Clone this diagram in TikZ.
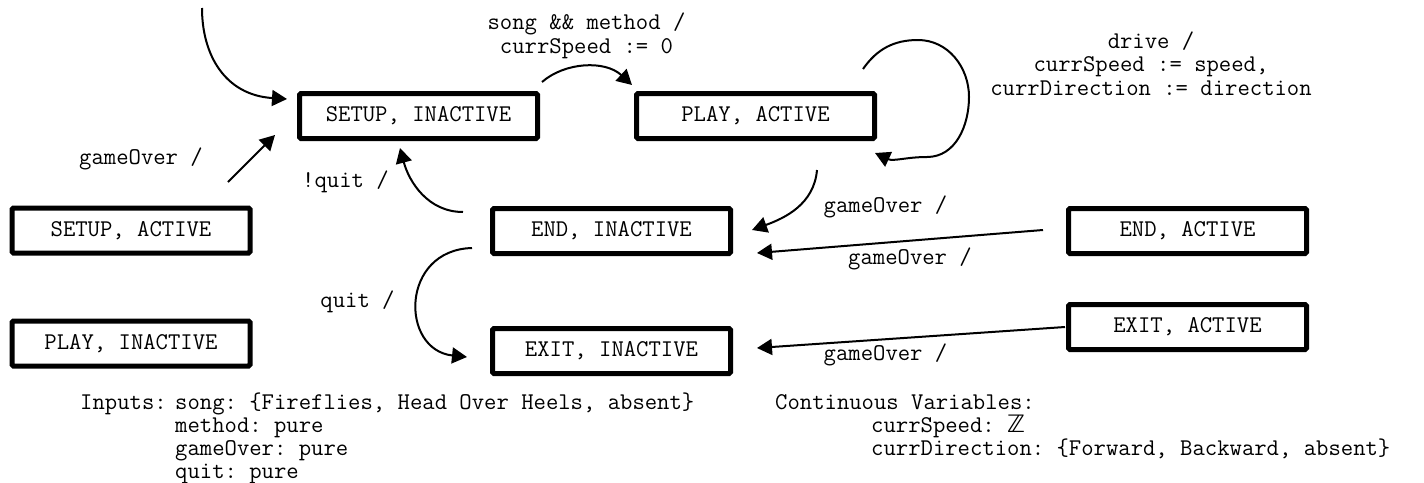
\documentclass[tikz,border=0pt]{standalone}
\usepackage{fontspec}
\newfontfamily\symfont{DejaVu Sans}
\usetikzlibrary{arrows.meta}
\begin{document}
\frenchspacing
\begin{tikzpicture}[x=1pt,y=1pt,
  txt/.style={font=\frenchspacing\ttfamily\fontsize{24}{26}\selectfont},
  statebox/.style={txt, draw, line width=5pt, rounded corners=1.5pt, minimum width=238pt, minimum height=45pt, inner sep=0pt},
  lbl/.style={txt, inner sep=0pt, anchor=base},
  lblw/.style={txt, inner sep=0pt, anchor=base west},
  conn/.style={line width=2pt, -{Triangle[length=15pt,width=16pt]}}
]
\useasboundingbox (0,0) rectangle (1424,-482);

% states
\node[statebox] (SI) at (418.5,-116) {SETUP, INACTIVE};
\node[statebox] (PA) at (755.5,-116) {PLAY, ACTIVE};
\node[statebox] (SA) at (131,-230.5) {SETUP, ACTIVE};
\node[statebox] (EI) at (611.5,-231) {END, INACTIVE};
\node[statebox] (EA) at (1187.5,-231) {END, ACTIVE};
\node[statebox] (PI) at (131,-343.5) {PLAY, INACTIVE};
\node[statebox] (XI) at (611.5,-351) {EXIT, INACTIVE};
\node[statebox] (XA) at (1187.5,-327) {EXIT, ACTIVE};

% connector end points
\coordinate (init) at (202,-8);
\coordinate (siL) at (287,-99);
\coordinate (saOut) at (228,-182);
\coordinate (siLB) at (275,-135);
\coordinate (siR) at (542,-82);
\coordinate (paL) at (632,-85);
\coordinate (paLoopS) at (863,-69);
\coordinate (paLoopT) at (918,-40);
\coordinate (paLoopR) at (969,-97);
\coordinate (paLoopB) at (927,-157);
\coordinate (paLoopE) at (875,-153);
\coordinate (paB) at (817,-170);
\coordinate (eiR) at (752,-230);
\coordinate (eaL) at (1043,-230);
\coordinate (eiR2) at (757,-253);
\coordinate (xaL) at (1065,-327);
\coordinate (xiR) at (757,-348);
\coordinate (eiL) at (463,-212);
\coordinate (siB) at (400,-148);
\coordinate (eiLB) at (472,-248);
\coordinate (xiL) at (467,-357);

% connectors
\draw[conn] (init) .. controls (202,-55) and (225,-95) .. (siL);
\draw[conn] (saOut) -- (siLB);
\draw[conn] (siR) .. controls (565,-62) and (605,-60) .. (paL);
\draw[conn] (paLoopS) to[out=55,in=180] (paLoopT) to[out=0,in=90] (paLoopR)
  to[out=-90,in=0] (paLoopB) to[out=180,in=-25] (paLoopE);
\draw[conn] (paB) to[out=-95,in=20] (eiR);
\draw[conn] (eaL) -- (eiR2);
\draw[conn] (xaL) -- (xiR);
\draw[conn] (eiL) to[out=180,in=-75] (siB);
\draw[conn] (eiLB) .. controls (400,-250) and (400,-350) .. (xiL);

% labels
\node[lbl] (l1) at (141,-164) {gameOver /};
\node[lbl] (l2) at (345.5,-187) {!quit /};
\node[lbl] (l3a) at (586.5,-29) {song \&\& method /};
\node[lbl] (l3b) at (586.5,-53) {currSpeed := 0};
\node[lbl] (l4a) at (1151,-48) {drive /};
\node[lbl] (l4b) at (1151,-71) {currSpeed := speed,};
\node[lbl] (l4c) at (1151,-95) {currDirection := direction};
\node[lbl] (l5) at (885.5,-212) {gameOver /};
\node[lbl] (l6) at (910,-264) {gameOver /};
\node[lbl] (l7) at (885.5,-360) {gameOver /};
\node[lbl] (l8) at (357.5,-307) {quit /};

% declarations
\node[lblw] (inp) at (80,-409) {Inputs:};
\node[lblw] (in1) at (175,-409) {song: \{Fireflies, Head Over Heels, absent\}};
\node[lblw] (in2) at (175,-432) {method: pure};
\node[lblw] (in3) at (175,-455) {gameOver: pure};
\node[lblw] (in4) at (175,-478) {quit: pure};
\node[lblw] (cv) at (775,-409) {Continuous Variables:};
\node[lblw] (cv1) at (871,-432) {currSpeed: {\symfont ℤ}};
\node[lblw] (cv2) at (871,-455) {currDirection: \{Forward, Backward, absent\}};
\end{tikzpicture}
\end{document}
